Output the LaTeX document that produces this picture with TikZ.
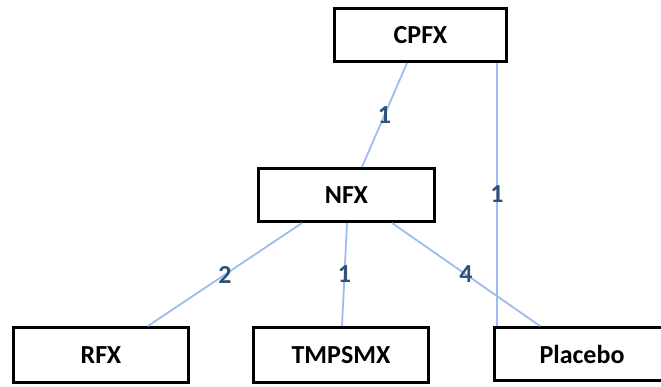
\documentclass[tikz,border=0pt]{standalone}
\usepackage{fontspec}
\setmainfont{Carlito}
\definecolor{edgeblue}{HTML}{9EBCEE}
\definecolor{labblue}{HTML}{2F5279}
\begin{document}
\begin{tikzpicture}[x=1pt,y=-1pt,
  box/.style={draw=black,line width=3pt,fill=white,inner sep=0pt,font=\fontsize{26}{30}\selectfont\bfseries,text=black},
  link/.style={draw=edgeblue,line width=1.8pt},
  wlab/.style={font=\fontsize{26}{30}\selectfont\bfseries,text=labblue,inner sep=0pt}]
\useasboundingbox (0,0) rectangle (661,386);
\node[box,minimum width=172pt,minimum height=53pt] (cpfx) at (420.5,35) {CPFX};
\node[box,minimum width=176pt,minimum height=53pt] (nfx) at (346.5,195) {NFX};
\node[box,minimum width=175pt,minimum height=55pt] (rfx) at (101,355) {RFX};
\node[box,minimum width=175pt,minimum height=55pt] (tmp) at (341,355) {TMPSMX};
\node[box,minimum width=190pt,minimum height=53pt] (plc) at (589.5,354) {\hspace*{-15pt}Placebo};
\draw[link] ([xshift=-13.5pt]cpfx.south) -- node[wlab,pos=0.5] {1} ([xshift=15.5pt]nfx.north);
\draw[link] ([xshift=76.5pt]cpfx.south) -- node[wlab,pos=0.5] {1} ([xshift=-92.5pt]plc.north);
\draw[link] ([xshift=-44.5pt]nfx.south) -- node[wlab,pos=0.5] {2} ([xshift=47pt]rfx.north);
\draw[link] ([xshift=0.5pt]nfx.south) -- node[wlab,pos=0.5] {1} ([xshift=1pt]tmp.north);
\draw[link] ([xshift=45.5pt]nfx.south) -- node[wlab,pos=0.5] {4} ([xshift=-49.5pt]plc.north);
\end{tikzpicture}
\end{document}
